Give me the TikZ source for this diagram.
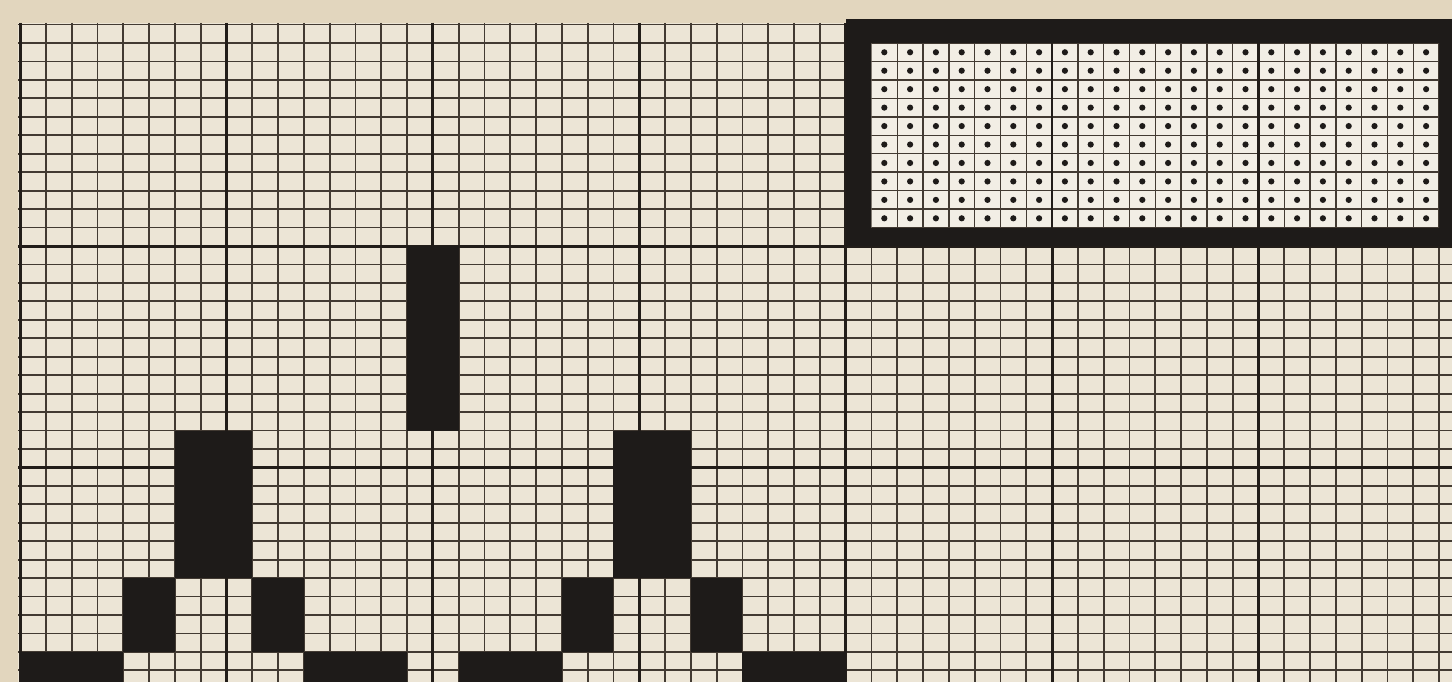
\documentclass[tikz,border=0pt]{standalone}
\definecolor{bgbeige}{RGB}{226,214,190}
\definecolor{paper}{RGB}{236,229,214}
\definecolor{innerpaper}{RGB}{242,238,229}
\definecolor{minorink}{RGB}{66,58,50}
\definecolor{majorink}{RGB}{34,29,25}
\definecolor{fillink}{RGB}{30,27,25}
\newcommand\cw{25.8}
\newcommand\rh{18.45}
\newcommand\blk[4]{\fill[fillink] ({20+#1*\cw},{246+#2*\rh}) rectangle ({20+#3*\cw},{246+#4*\rh});}
\tikzset{
  minorline/.style={minorink,line width=1.8pt},
  majorline/.style={majorink,line width=3pt},
  dotmark/.style={fill=fillink},
}
\begin{document}
\begin{tikzpicture}[x=1pt,y=-1pt]
\useasboundingbox (0,0) rectangle (1452,682);
\fill[bgbeige] (0,0) rectangle (1452,682);
\clip (0,0) rectangle (1452,682);
\fill[paper] (18,23) rectangle (1452,682);
% minor grid
\foreach \c in {0,...,56} \draw[minorline] ({20+\c*\cw},23) -- ({20+\c*\cw},682);
\foreach \r in {-12,...,24} \draw[minorline] (18,{246+\r*\rh}) -- (1452,{246+\r*\rh});
% major grid
\foreach \c in {0,8,...,56} \draw[majorline] ({20+\c*\cw},23) -- ({20+\c*\cw},682);
\foreach \r in {0,12} \draw[majorline] (18,{246+\r*\rh}) -- (1452,{246+\r*\rh});
% vertical bar
\blk{15}{0}{17}{10}
% left figure
\blk{0}{22}{4}{25}
\blk{4}{18}{6}{22}
\blk{6}{10}{9}{18}
\blk{9}{18}{11}{22}
\blk{11}{22}{15}{25}
% right figure
\blk{17}{22}{21}{25}
\blk{21}{18}{23}{22}
\blk{23}{10}{26}{18}
\blk{26}{18}{28}{22}
\blk{28}{22}{32}{25}
% dotted frame
\fill[fillink] ({20+32*\cw},19) rectangle ({20+57*\cw},{246});
\fill[innerpaper] ({20+33*\cw},{246-11*\rh}) rectangle ({20+55*\cw},{246-1*\rh});
\begin{scope}
\clip ({20+33*\cw},{246-11*\rh}) rectangle ({20+55*\cw},{246-1*\rh});
\foreach \c in {33,...,55} \draw[minorline,line width=1.4pt] ({20+\c*\cw},0) -- ({20+\c*\cw},246);
\foreach \r in {-11,...,-1} \draw[minorline,line width=1.4pt] (840,{246+\r*\rh}) -- (1452,{246+\r*\rh});
\foreach \c in {40,48} \draw[majorline,line width=2.6pt] ({20+\c*\cw},0) -- ({20+\c*\cw},246);
\foreach \c in {33,...,54} \foreach \r in {-11,...,-2}
  \fill[dotmark] ({20+(\c+0.5)*\cw},{246+(\r+0.5)*\rh}) circle (3.1);
\end{scope}
\end{tikzpicture}
\end{document}
